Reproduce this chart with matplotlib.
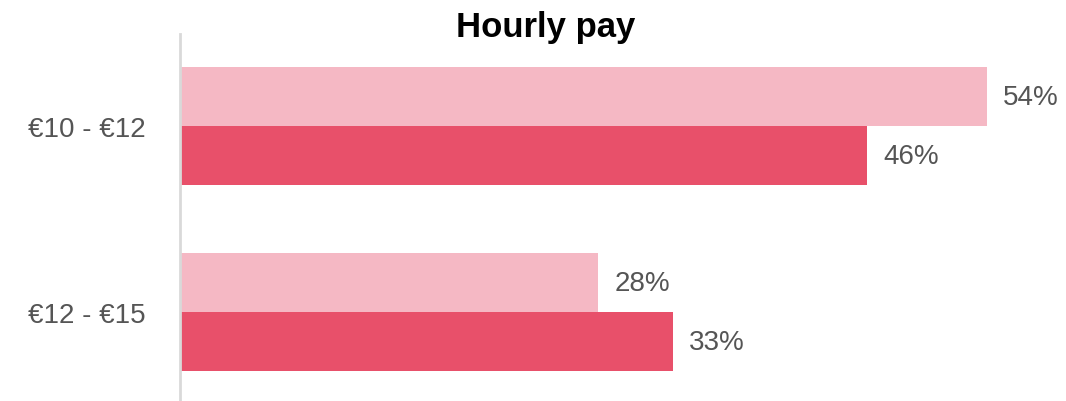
import matplotlib
matplotlib.use("Agg")
import matplotlib.pyplot as plt
import numpy as np

categories = ["€10 - €12", "€12 - €15"]
series_a = [54, 28]   # light pink
series_b = [46, 33]   # red
title = "Hourly pay"

plt.rcParams['font.family'] = ['Liberation Sans', 'DejaVu Sans']

W, H = 1066, 402
fig = plt.figure(figsize=(W/100, H/100), dpi=100)
ax = fig.add_axes([180/W, 0, (W-180)/W, (H-35)/H])

y = np.arange(len(categories))
h = 59/186
ax.barh(y - h/2, series_a, height=h, color="#F5B8C4", edgecolor="none")
ax.barh(y + h/2, series_b, height=h, color="#E8506A", edgecolor="none")

ax.set_xlim(0, (W-180)/14.94)
ax.set_ylim(1.478, -0.495)

for yi, v in zip(y - h/2, series_a):
    ax.annotate(f"{v}%", (v, yi), xytext=(16, 0), textcoords="offset pixels",
                va="center", ha="left", fontsize=20, color="#555555")
for yi, v in zip(y + h/2, series_b):
    ax.annotate(f"{v}%", (v, yi), xytext=(16, 0), textcoords="offset pixels",
                va="center", ha="left", fontsize=20, color="#555555")

ax.set_yticks(y)
ax.set_yticklabels(categories, fontsize=20, color="#555555")
ax.tick_params(axis="y", length=0, pad=25)
ax.set_xticks([])
for s in ["top", "right", "bottom"]:
    ax.spines[s].set_visible(False)
ax.spines["left"].set_color("#D9D9D9")
ax.spines["left"].set_linewidth(2)

fig.text(545.5/W, 1 - 37/H, title, ha="center", va="baseline", fontsize=25,
         fontweight="bold", color="#000000")

fig.savefig("out.png", dpi=100)
